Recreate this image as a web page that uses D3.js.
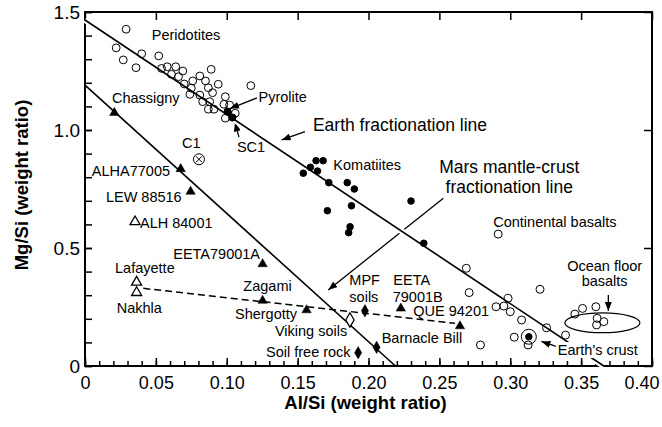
<!DOCTYPE html>
<html>
<head>
<meta charset="utf-8">
<script src="https://cdn.jsdelivr.net/npm/d3@7"></script>
<style>
  body { margin: 0; background: #fff; }
  text { font-family: "Liberation Sans", Arial, Helvetica, sans-serif; fill: #000; }
</style>
</head>
<body>
<svg id="chart" width="662" height="427"></svg>
<script>

/*************************************************************************/
// data (Al/Si, Mg/Si weight ratios)

const xTicks = [0, 0.05, 0.10, 0.15, 0.20, 0.25, 0.30, 0.35, 0.40];
const xTickLabels = ["0", "0.05", "0.10", "0.15", "0.20", "0.25", "0.30", "0.35", "0.40"];
const yTicks = [0, 0.5, 1.0, 1.5];
const yTickLabels = ["0", "0.5", "1.0", "1.5"];

const peridotites = [
    [0.029,1.427],[0.022,1.348],[0.040,1.323],[0.052,1.314],[0.027,1.297],[0.036,1.264],
    [0.054,1.261],[0.058,1.268],[0.064,1.268],[0.069,1.250],[0.061,1.236],[0.066,1.226],
    [0.089,1.257],[0.081,1.229],[0.085,1.208],[0.076,1.208],[0.070,1.195],[0.094,1.194],
    [0.075,1.177],[0.087,1.179],[0.074,1.151],[0.081,1.148],[0.090,1.158],[0.117,1.188],
    [0.099,1.141],[0.083,1.120],[0.088,1.120],[0.102,1.106],[0.087,1.088],[0.091,1.088],
    [0.098,1.109],[0.106,1.071],[0.099,1.050]
];
const komatiites = [
    [0.163,0.870],[0.168,0.870],[0.159,0.842],[0.164,0.826],[0.154,0.817],[0.172,0.777],
    [0.185,0.777],[0.190,0.750],[0.230,0.699],[0.188,0.679],[0.171,0.658],[0.187,0.590],
    [0.186,0.565],[0.239,0.520]
];
const referenceRocks = [[0.1006,1.078],[0.104,1.053]];   // Pyrolite, SC1
const basalts = [
    [0.2915,0.559],[0.269,0.414],[0.271,0.311],[0.321,0.325],[0.2985,0.287],[0.2955,0.254],
    [0.290,0.251],[0.300,0.230],[0.308,0.195],[0.3256,0.162],[0.339,0.131],[0.3028,0.122],
    [0.3126,0.089],[0.279,0.089]
];
const oceanFloor = [[0.3456,0.220],[0.351,0.244],[0.3604,0.251],[0.3613,0.202],[0.366,0.188],[0.3609,0.174]];
const earthCrust = [0.3131, 0.124];
const c1 = [0.0804, 0.876];

const martianNames = ["Chassigny","ALHA77005","LEW 88516","EETA79001A","Zagami","Shergotty","EETA 79001B","QUE 94201"];
const martianValues = [[0.0207,1.073],[0.0675,0.835],[0.0745,0.739],[0.1253,0.432],[0.1253,0.277],[0.1563,0.237],[0.2228,0.244],[0.2645,0.169]];
const nakhliteNames = ["ALH 84001","Lafayette","Nakhla"];
const nakhliteValues = [[0.0353,0.611],[0.0364,0.355],[0.0364,0.311]];
const soilNames = ["MPF soils","Soil free rock","Barnacle Bill"];
const soilValues = [[0.1975,0.234],[0.1927,0.056],[0.2057,0.079]];
const vikingSoils = [0.1869, 0.195];

const earthLine = [[0, 1.466],[0.366, 0]];
const marsLine = [[0, 1.19],[0.219, 0]];
const mixingLine = [[0.0411, 0.329],[0.261, 0.181]];

/*************************************************************************/
// annotations, in data units

const labels = [
    { t: "Peridotites", x: 0.0471, y: 1.403 },
    { t: "Chassigny", x: 0.019, y: 1.136 },
    { t: "Pyrolite", x: 0.1224, y: 1.14 },
    { t: "C1", x: 0.0684, y: 0.945 },
    { t: "SC1", x: 0.1072, y: 0.928 },
    { t: "Komatiites", x: 0.1752, y: 0.852 },
    { t: "ALHA77005", x: 0.060, y: 0.828, a: "end" },
    { t: "LEW 88516", x: 0.0682, y: 0.717, a: "end" },
    { t: "ALH 84001", x: 0.0388, y: 0.607 },
    { t: "EETA79001A", x: 0.1235, y: 0.475, a: "end" },
    { t: "Lafayette", x: 0.0212, y: 0.414 },
    { t: "Nakhla", x: 0.0224, y: 0.244 },
    { t: "Zagami", x: 0.1117, y: 0.339 },
    { t: "Shergotty", x: 0.1058, y: 0.219 },
    { t: "Viking soils", x: 0.134, y: 0.150 },
    { t: "Soil free rock", x: 0.1277, y: 0.059 },
    { t: "MPF", x: 0.1865, y: 0.364 },
    { t: "soils", x: 0.1865, y: 0.294 },
    { t: "EETA", x: 0.2175, y: 0.364 },
    { t: "79001B", x: 0.2171, y: 0.294 },
    { t: "QUE 94201", x: 0.2316, y: 0.234 },
    { t: "Barnacle Bill", x: 0.2093, y: 0.117 },
    { t: "Continental basalts", x: 0.288, y: 0.611 },
    { t: "Ocean floor", x: 0.3666, y: 0.424, a: "middle" },
    { t: "basalts", x: 0.3666, y: 0.360, a: "middle" },
    { t: "Earth's crust", x: 0.3335, y: 0.068, bg: true },
    { t: "Earth fractionation line", x: 0.1608, y: 1.021, big: true },
    { t: "Mars mantle-crust", x: 0.2993, y: 0.845, a: "middle", big: true },
    { t: "fractionation line", x: 0.2993, y: 0.757, a: "middle", big: true }
];

const arrows = [
    [[0.1552,0.993],[0.1387,0.958]],
    [[0.2528,0.711],[0.1716,0.322]],
    [[0.1213,1.136],[0.1023,1.091]],
    [[0.1086,0.970],[0.1058,1.032]],
    [[0.3328,0.082],[0.3220,0.104]],
    [[0.3692,0.301],[0.3692,0.233]]
];

/*************************************************************************/

const svg = d3.select("#chart");
const x = d3.scaleLinear().domain([0, 0.40]).range([85, 652]);
const y = d3.scaleLinear().domain([0, 1.5]).range([366, 12]);
const line = d3.line().x(d => x(d[0])).y(d => y(d[1]));

const marker = svg.append("defs").append("marker")
    .attr("id", "head")
    .attr("markerUnits", "userSpaceOnUse")
    .attr("viewBox", "0 0 9 7")
    .attr("refX", 9).attr("refY", 3.5)
    .attr("markerWidth", 9).attr("markerHeight", 7)
    .attr("orient", "auto");
marker.append("path").attr("d", "M0,0L9,3.5L0,7Z").attr("fill", "#000");

/*************************************************************************/
// axes: minor and major ticks drawn inward

svg.append("g")
    .attr("transform", "translate(0,366)")
    .call(d3.axisBottom(x).tickValues(d3.range(0, 0.4001, 0.01)).tickSize(-5).tickFormat(""))
    .call(g => g.select(".domain").remove());

svg.append("g")
    .attr("transform", "translate(0,366)")
    .call(d3.axisBottom(x).tickValues(xTicks).tickSize(-8).tickPadding(10)
        .tickFormat((d, i) => xTickLabels[i]))
    .call(g => g.select(".domain").remove())
    .call(g => g.selectAll("text").style("font-size", "18px").style("font-family", null))
    .call(g => g.selectAll(".tick:last-of-type text").attr("text-anchor", "end").attr("x", 7));

svg.append("g")
    .attr("transform", "translate(0,12)")
    .call(d3.axisTop(x).tickValues(xTicks).tickSize(-8).tickFormat(""))
    .call(g => g.select(".domain").remove());

svg.append("g")
    .attr("transform", "translate(85,0)")
    .call(d3.axisLeft(y).tickValues(d3.range(0, 1.501, 0.1)).tickSize(-7).tickFormat(""))
    .call(g => g.select(".domain").remove());

svg.append("g")
    .attr("transform", "translate(85,0)")
    .call(d3.axisLeft(y).tickValues(yTicks).tickSize(-7).tickPadding(5)
        .tickFormat((d, i) => yTickLabels[i]))
    .call(g => g.select(".domain").remove())
    .call(g => g.selectAll("text").style("font-size", "19px").style("font-family", null));

svg.append("g")
    .attr("transform", "translate(652,0)")
    .call(d3.axisRight(y).tickValues(yTicks).tickSize(-8).tickFormat(""))
    .call(g => g.select(".domain").remove());

svg.selectAll(".tick line").attr("stroke", "#000").attr("stroke-width", 1.5);

svg.append("rect")
    .attr("x", x(0)).attr("y", y(1.5))
    .attr("width", x(0.4) - x(0)).attr("height", y(0) - y(1.5))
    .attr("fill", "none").attr("stroke", "#000").attr("stroke-width", 2);

svg.append("text")
    .attr("x", (x(0) + x(0.4)) / 2 - 3).attr("y", 409)
    .attr("text-anchor", "middle")
    .style("font-size", "18.5px").style("font-weight", "bold")
    .text("Al/Si (weight ratio)");

svg.append("text")
    .attr("transform", "translate(28,185) rotate(-90)")
    .attr("text-anchor", "middle")
    .style("font-size", "18.5px").style("font-weight", "bold")
    .text("Mg/Si (weight ratio)");

/*************************************************************************/
// lines and arrows

const plot = svg.append("g");

plot.selectAll("path.arrow")
    .data(arrows)
    .enter().append("path")
    .attr("class", "arrow")
    .attr("d", line)
    .attr("stroke", "#000").attr("stroke-width", 1.3)
    .attr("marker-end", "url(#head)");

// white halo so the Mars arrow looks broken where it passes under
plot.append("path").attr("d", line(earthLine))
    .attr("stroke", "#fff").attr("stroke-width", 6);
plot.append("path").attr("d", line(earthLine))
    .attr("stroke", "#000").attr("stroke-width", 1.6);
plot.append("path").attr("d", line(marsLine))
    .attr("stroke", "#000").attr("stroke-width", 1.6);
plot.append("path").attr("d", line(mixingLine))
    .attr("stroke", "#000").attr("stroke-width", 1.5)
    .attr("stroke-dasharray", "7 4");

plot.append("ellipse")
    .attr("cx", x(0.365)).attr("cy", y(0.183))
    .attr("rx", x(0.0265) - x(0)).attr("ry", y(0) - y(0.042))
    .attr("fill", "none").attr("stroke", "#000").attr("stroke-width", 1.2);

/*************************************************************************/
// labels

plot.selectAll("text.label")
    .data(labels)
    .enter().append("text")
    .attr("class", "label")
    .attr("x", d => x(d.x)).attr("y", d => y(d.y))
    .attr("dy", "0.35em")
    .attr("text-anchor", d => d.a || "start")
    .style("font-size", d => d.big ? "17.5px" : "14.5px")
    .text(d => d.t)
    .each(function(d){
        if(!d.bg) return;
        const b = this.getBBox();
        d3.select(this.parentNode).insert("rect", () => this)
            .attr("x", b.x - 2).attr("y", b.y).attr("width", b.width + 4).attr("height", b.height)
            .attr("fill", "#fff");
    });

/*************************************************************************/
// points

const circles = (data, r, filled) => plot.append("g")
    .selectAll("circle")
    .data(data)
    .enter().append("circle")
    .attr("cx", d => x(d[0])).attr("cy", d => y(d[1]))
    .attr("r", r)
    .attr("fill", filled ? "#000" : "none")
    .attr("stroke", "#000").attr("stroke-width", 1);

circles(peridotites, 3.9, false);
circles(basalts, 4, false);
circles(oceanFloor, 4, false);
circles(komatiites, 3.3, true);
circles(referenceRocks, 3.6, true);
circles([earthCrust], 3.2, true);
circles([earthCrust], 7.5, false);
circles([c1], 5.5, false);

plot.append("path")
    .attr("transform", `translate(${x(c1[0])},${y(c1[1])})`)
    .attr("d", "M-3,-3L3,3M-3,3L3,-3")
    .attr("stroke", "#000").attr("stroke-width", 1);

const symbols = (data, type, size, filled) => plot.append("g")
    .selectAll("path")
    .data(data)
    .enter().append("path")
    .attr("transform", d => `translate(${x(d[0])},${y(d[1])})`)
    .attr("d", d3.symbol().type(type).size(size))
    .attr("fill", filled ? "#000" : "#fff")
    .attr("stroke", "#000").attr("stroke-width", filled ? 0.5 : 1.3);

symbols(martianValues, d3.symbolTriangle, 38, true);
symbols(nakhliteValues, d3.symbolTriangle, 44, false);
symbols(soilValues, d3.symbolDiamond, 44, true);
symbols([vikingSoils], d3.symbolDiamond, 60, false);

</script>
</body>
</html>
